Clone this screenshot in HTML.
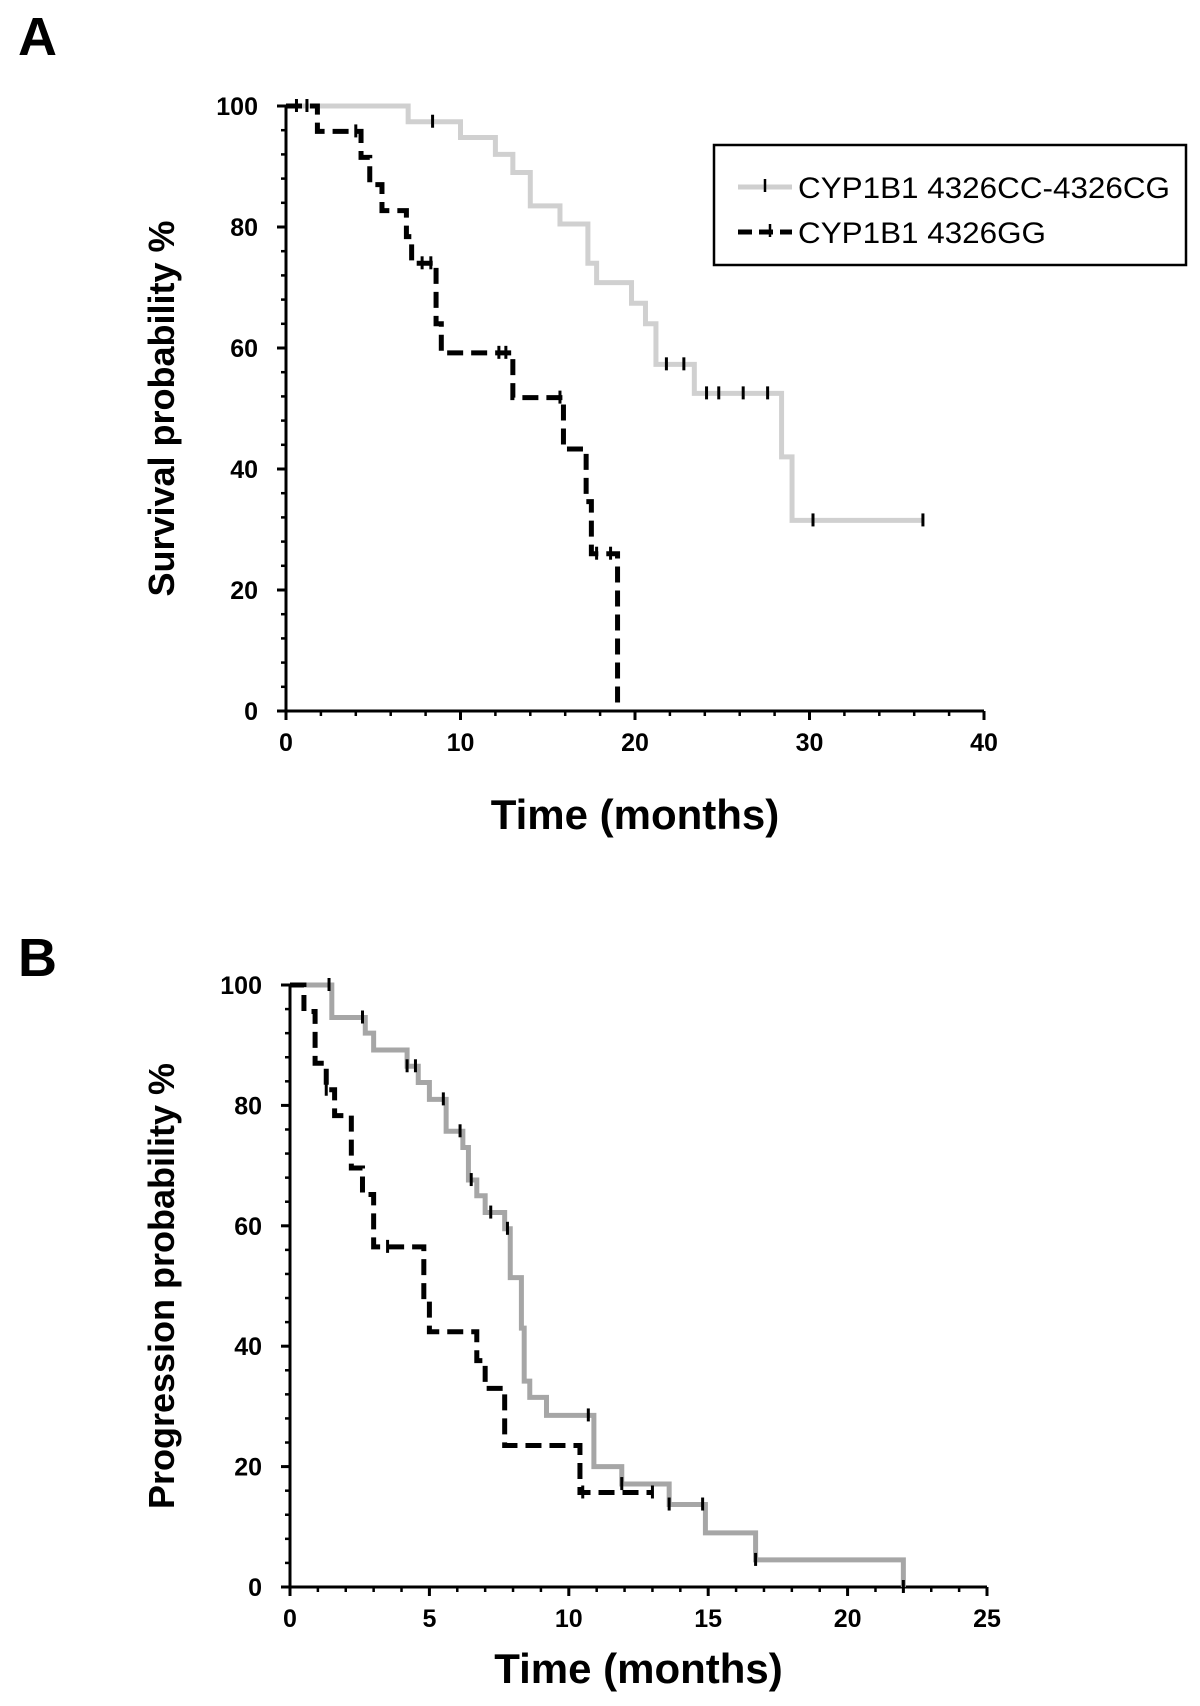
<!DOCTYPE html>
<html><head><meta charset="utf-8"><style>
html,body{margin:0;padding:0;background:#fff;}
svg text{font-family:"Liberation Sans",Arial,sans-serif;}
</style></head><body>
<svg id="fig" width="1200" height="1701" viewBox="0 0 1200 1701" xmlns="http://www.w3.org/2000/svg">
<text x="18" y="55" font-size="54" font-weight="bold">A</text>
<text x="18" y="976" font-size="54" font-weight="bold">B</text>
<g id="pa"></g>
<g id="pb"></g>
<g>
<rect x="714" y="145" width="472" height="120" fill="#fff" stroke="#000" stroke-width="2.5"/>
<g>
<line x1="738" y1="187" x2="792" y2="187" stroke="#cfcfcf" stroke-width="5"/>
<line x1="765" y1="179" x2="765" y2="192" stroke="#000" stroke-width="2.5"/>
<text x="798" y="198" font-size="30" textLength="372" lengthAdjust="spacingAndGlyphs">CYP1B1 4326CC-4326CG</text></g>
<g>
<line x1="738" y1="232" x2="792" y2="232" stroke="#000" stroke-width="5" stroke-dasharray="14 7"/>
<line x1="770" y1="224" x2="770" y2="237" stroke="#000" stroke-width="2.5"/>
<text x="798" y="243" font-size="30" textLength="248" lengthAdjust="spacingAndGlyphs">CYP1B1 4326GG</text></g>
</g>
</svg>
<script>
// Panel A data
const aTicksX = [0,10,20,30,40];
const aTicksY = [0,20,40,60,80,100];
const aGrayT = [0,7,10,12,13,14,15.7,17.3,17.8,19.8,20.6,21.2,23.4,28.4,29,36.5];
const aGrayS = [100,97.4,94.8,92,89,83.5,80.5,74,70.8,67.4,64,57.3,52.5,42,31.5,31.5];
const aGrayCens = [8.4,21.8,22.8,24.1,24.8,26.2,27.6,30.2,36.5];
const aBlackT = [0,1.8,4.3,4.8,5.5,6.9,7.2,8.6,8.9,13,15.9,17.2,17.5,19];
const aBlackS = [100,95.8,91.5,87,82.7,78.4,74,64,59.2,51.8,43.3,34.6,26,0];
const aBlackCens = [0.6,1.2,4,7.8,8.3,12.2,12.6,15.7,17.8,18.6];
// Panel B data
const bTicksX = [0,5,10,15,20,25];
const bTicksY = [0,20,40,60,80,100];
const bGrayT = [0,1.5,2.7,3,4.2,4.6,5,5.6,6.2,6.4,6.7,7,7.7,7.9,8.3,8.4,8.6,9.2,10.9,11.9,13.6,14.9,16.7,22];
const bGrayS = [100,94.6,92,89.2,86.5,83.8,81,75.7,73,67.6,65,62.2,59.5,51.4,43,34.2,31.5,28.5,20,17.1,13.7,9,4.5,0];
const bGrayCens = [1.4,2.6,4.2,4.5,5.5,6.1,6.5,7.2,7.8,10.7,11.9,13.6,14.8,16.7,22];
const bBlackT = [0,0.5,0.9,1.3,1.6,2.2,2.6,3.0,4.8,5.0,6.7,7.0,7.7,10.4,13.0];
const bBlackS = [100,95.6,87,82.6,78.3,69.6,65.2,56.5,47.8,42.4,37.6,33,23.5,15.7,15.7];
const bBlackCens = [1.3,3.5,10.5,13.0];

const NS='http://www.w3.org/2000/svg';
function mk(tag,attrs,parent){const e=document.createElementNS(NS,tag);for(const k in attrs)e.setAttribute(k,attrs[k]);parent.appendChild(e);return e;}

function drawPanel(g,cfg){
  const sx=v=>cfg.x0+(v-cfg.xmin)/(cfg.xmax-cfg.xmin)*(cfg.x1-cfg.x0);
  const sy=v=>cfg.y0-(v/100)*(cfg.y0-cfg.y1);
  const axes=mk('g',{},g);
  
  
  mk('line',{x1:cfg.x0,y1:cfg.y0,x2:cfg.x1,y2:cfg.y0,stroke:'#000','stroke-width':3},axes);
  mk('line',{x1:cfg.x0,y1:cfg.y0,x2:cfg.x0,y2:cfg.y1,stroke:'#000','stroke-width':3},axes);
  for(let v=cfg.xmin;v<=cfg.xmax+1e-9;v+=cfg.xminor){mk('line',{x1:sx(v),y1:cfg.y0,x2:sx(v),y2:cfg.y0+5,stroke:'#000','stroke-width':2.5},axes);}
  for(let v=0;v<=100+1e-9;v+=cfg.yminor){mk('line',{x1:cfg.x0,y1:sy(v),x2:cfg.x0-5,y2:sy(v),stroke:'#000','stroke-width':2.5},axes);}
  cfg.ticksX.forEach(v=>{
    mk('line',{x1:sx(v),y1:cfg.y0,x2:sx(v),y2:cfg.y0+9,stroke:'#000','stroke-width':3},axes);
    const t=mk('text',{x:sx(v),y:cfg.y0+40,'font-size':25,'font-weight':'bold','text-anchor':'middle'},axes);
    
    
    t.textContent=v;
  });
  cfg.ticksY.forEach(v=>{
    mk('line',{x1:cfg.x0,y1:sy(v),x2:cfg.x0-9,y2:sy(v),stroke:'#000','stroke-width':3},axes);
    const t=mk('text',{x:cfg.x0-28,y:sy(v)+9,'font-size':25,'font-weight':'bold','text-anchor':'end'},axes);
    
    
    t.textContent=v;
  });
  const xt=mk('text',{x:(cfg.x0+cfg.x1)/2,y:cfg.xtY,'font-size':42,'font-weight':'bold','text-anchor':'middle'},g);
  
  
  xt.textContent='Time (months)';
  const yt=mk('text',{x:0,y:0,'font-size':36,'font-weight':'bold','text-anchor':'middle',transform:`translate(${cfg.ytX},${(cfg.y0+cfg.y1)/2}) rotate(-90)`},g);
  
  
  yt.textContent=cfg.ytitle;
  cfg.series.forEach(s=>{
    let d=`M${sx(s.t[0])},${sy(s.s[0])}`;
    for(let i=1;i<s.t.length;i++){d+=` H${sx(s.t[i])} V${sy(s.s[i])}`;}
    const p=mk('path',{d:d,fill:'none',stroke:s.color,'stroke-width':5,'stroke-dasharray':s.dash||'none'},g);
    
    
    s.cens.forEach(c=>{
      let v=s.s[0];for(let i=0;i<s.t.length;i++){if(s.t[i]<=c)v=s.s[i];}
      const l=mk('line',{x1:sx(c),y1:sy(v)-7,x2:sx(c),y2:sy(v)+6,stroke:'#000','stroke-width':3},g);
      
      
    });
  });
}
drawPanel(document.getElementById('pa'),{x0:286,x1:984,y0:711,y1:106,xmin:0,xmax:40,xminor:2,yminor:4,ticksX:aTicksX,ticksY:aTicksY,xtY:829,ytX:174,ytitle:'Survival probability %',
 series:[{t:aGrayT,s:aGrayS,cens:aGrayCens,color:'#d0d0d0',name:'curve-cc-cg'},{t:aBlackT,s:aBlackS,cens:aBlackCens,color:'#000',dash:'16 8',name:'curve-gg'}]});
drawPanel(document.getElementById('pb'),{x0:290,x1:987,y0:1587,y1:985,xmin:0,xmax:25,xminor:1,yminor:4,ticksX:bTicksX,ticksY:bTicksY,xtY:1683,ytX:174,ytitle:'Progression probability %',
 series:[{t:bGrayT,s:bGrayS,cens:bGrayCens,color:'#a6a6a6',name:'curve-cc-cg'},{t:bBlackT,s:bBlackS,cens:bBlackCens,color:'#000',dash:'16 8',name:'curve-gg'}]});
</script>
</body></html>
